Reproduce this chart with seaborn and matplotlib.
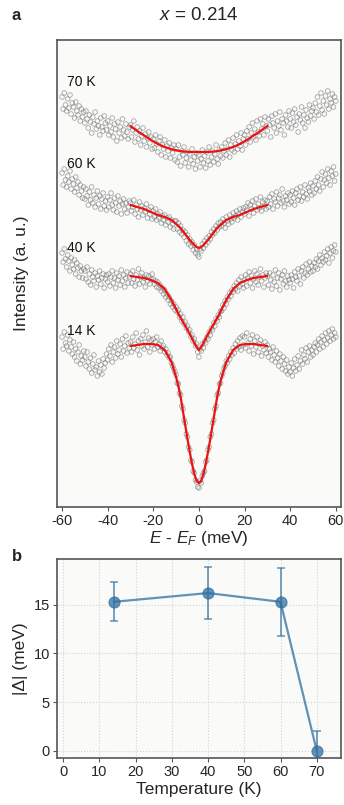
import numpy as np
import pandas as pd
import matplotlib
matplotlib.use("Agg")
import matplotlib.pyplot as plt
import seaborn as sns

# ---------------- data (panel a: EDC-like spectra, arbitrary units) ----------------
E_START, E_STEP = -60.0, 0.5

int_70K = [
    410, 398, 414, 402, 396, 408, 399, 412, 393, 404, 400, 389, 405, 396, 392, 401, 386, 398, 390, 395,
    384, 396, 388, 379, 392, 385, 374, 390, 383, 395, 378, 386, 381, 372, 389, 380, 376, 391, 384, 377,
    386, 372, 381, 375, 389, 370, 383, 378, 366, 385, 374, 380, 369, 388, 377, 371, 383, 375, 368, 380,
    382, 370, 377, 386, 365, 374, 380, 368, 376, 362, 371, 379, 366, 373, 360, 369, 375, 364, 370, 358,
    368, 359, 372, 363, 355, 366, 370, 352, 362, 358, 367, 350, 361, 356, 364, 349, 359, 354, 362, 347,
    358, 345, 362, 350, 341, 356, 352, 360, 344, 349, 355, 340, 353, 347, 358, 343, 350, 338, 354, 346,
    352, 340, 348, 357, 344, 351, 339, 355, 346, 360, 342, 350, 356, 345, 353, 362, 348, 343, 357, 351,
    360, 349, 356, 364, 352, 358, 367, 350, 362, 357, 369, 355, 363, 372, 358, 366, 361, 374, 357, 368,
    372, 362, 376, 368, 380, 365, 374, 384, 370, 378, 367, 386, 375, 371, 388, 378, 383, 372, 390, 381,
    376, 388, 382, 370, 391, 384, 379, 393, 374, 386, 381, 395, 377, 388, 384, 372, 392, 386, 380, 396,
    388, 379, 394, 385, 398, 382, 390, 375, 393, 387, 400, 384, 392, 379, 397, 389, 385, 402, 391, 396,
    399, 388, 404, 395, 410, 392, 401, 414, 397, 406, 393, 411, 402, 416, 398, 408, 404, 413, 400, 410,
    406]

int_60K = [
    334, 322, 338, 327, 320, 331, 325, 336, 318, 328, 323, 315, 330, 319, 325, 312, 322, 316, 309, 320,
    308, 318, 311, 302, 315, 307, 320, 304, 312, 300, 309, 316, 303, 311, 298, 308, 314, 301, 306, 297,
    310, 300, 307, 314, 302, 297, 309, 304, 295, 311, 301, 306, 293, 303, 308, 298, 304, 294, 300, 306,
    304, 296, 300, 307, 293, 302, 298, 290, 305, 297, 301, 292, 299, 295, 303, 289, 297, 293, 300, 288,
    296, 290, 298, 287, 293, 289, 295, 284, 291, 287, 292, 282, 289, 285, 290, 280, 287, 283, 278, 286,
    286, 278, 284, 275, 281, 273, 277, 270, 275, 266, 272, 263, 268, 261, 265, 257, 262, 254, 258, 252,
    250, 258, 256, 263, 259, 266, 262, 269, 265, 271, 268, 275, 272, 278, 274, 281, 277, 284, 280, 285,
    281, 288, 284, 279, 290, 286, 283, 292, 288, 285, 294, 289, 291, 296, 287, 293, 298, 290, 295, 299,
    293, 300, 297, 304, 291, 302, 298, 306, 294, 301, 308, 297, 303, 299, 310, 296, 305, 301, 307, 298,
    306, 300, 310, 303, 313, 298, 308, 305, 315, 301, 309, 312, 304, 318, 306, 300, 311, 307, 314, 303,
    312, 305, 316, 309, 302, 314, 318, 307, 311, 320, 306, 315, 310, 322, 313, 308, 319, 316, 324, 312,
    321, 314, 326, 318, 330, 322, 316, 328, 335, 320, 327, 333, 324, 338, 329, 322, 336, 331, 340, 326,
    333]

int_40K = [
    254, 245, 258, 248, 240, 252, 246, 236, 249, 242, 238, 247, 233, 244, 239, 230, 241, 236, 229, 238,
    236, 228, 240, 225, 233, 222, 237, 230, 226, 234, 220, 231, 227, 236, 223, 229, 233, 219, 228, 232,
    225, 233, 221, 230, 236, 224, 229, 219, 234, 227, 231, 222, 237, 226, 232, 220, 229, 235, 224, 230,
    233, 224, 236, 228, 221, 232, 227, 238, 223, 230, 234, 225, 229, 220, 232, 226, 231, 223, 228, 233,
    228, 223, 226, 220, 225, 219, 222, 216, 219, 213, 217, 210, 213, 207, 210, 203, 206, 200, 203, 197,
    200, 195, 197, 190, 193, 186, 190, 183, 185, 179, 181, 175, 177, 170, 172, 166, 168, 161, 163, 155,
    150, 158, 156, 163, 159, 166, 164, 170, 168, 175, 172, 179, 177, 184, 181, 188, 186, 192, 190, 196,
    196, 202, 199, 206, 203, 210, 208, 214, 211, 217, 215, 221, 218, 224, 216, 227, 221, 230, 223, 219,
    227, 232, 221, 229, 235, 224, 231, 219, 228, 236, 225, 233, 222, 230, 238, 226, 232, 220, 229, 234,
    231, 222, 234, 227, 218, 232, 225, 237, 221, 229, 234, 217, 228, 232, 223, 236, 226, 220, 231, 227,
    224, 232, 228, 219, 235, 230, 226, 238, 231, 223, 236, 240, 229, 234, 243, 232, 238, 245, 235, 241,
    236, 244, 240, 248, 238, 246, 252, 242, 249, 245, 255, 247, 251, 258, 244, 254, 260, 249, 256, 262,
    255]

int_14K = [
    170, 158, 175, 164, 161, 172, 156, 167, 160, 153, 165, 150, 158, 146, 155, 162, 143, 151, 147, 156,
    150, 141, 155, 145, 138, 149, 134, 143, 152, 137, 140, 131, 146, 135, 142, 133, 148, 139, 144, 153,
    147, 158, 151, 162, 145, 155, 160, 149, 166, 153, 157, 163, 150, 168, 156, 161, 171, 154, 164, 159,
    165, 155, 170, 159, 163, 174, 157, 166, 152, 168, 161, 172, 158, 165, 176, 160, 169, 155, 167, 162,
    168, 158, 165, 170, 160, 163, 156, 166, 159, 161, 155, 158, 152, 154, 149, 150, 144, 141, 138, 135,
    132, 124, 123, 114, 112, 101, 98, 87, 84, 73, 70, 60, 57, 47, 45, 36, 34, 27, 25, 20,
    19, 26, 24, 31, 34, 36, 45, 47, 57, 60, 70, 73, 84, 87, 98, 101, 112, 114, 123, 124,
    131, 134, 139, 141, 146, 144, 151, 148, 155, 152, 159, 154, 163, 158, 166, 160, 169, 157, 171, 162,
    170, 159, 174, 164, 156, 168, 161, 172, 153, 166, 160, 170, 155, 163, 167, 151, 161, 157, 165, 154,
    162, 150, 158, 155, 147, 160, 152, 145, 156, 149, 141, 153, 146, 138, 150, 143, 136, 147, 133, 140,
    135, 144, 131, 139, 148, 136, 142, 151, 138, 146, 157, 143, 152, 148, 159, 145, 155, 161, 150, 157,
    152, 160, 164, 155, 162, 168, 158, 165, 171, 160, 167, 174, 163, 169, 176, 166, 172, 178, 168, 174,
    170]

# fitted curves (red), read at these energies
E_fit = [-30, -27, -24, -21, -18, -15, -12, -10, -9, -8, -7, -6, -5, -4, -3, -2, -1, 0,
         1, 2, 3, 4, 5, 6, 7, 8, 9, 10, 12, 15, 18, 21, 24, 27, 30]
fit_70K = [381, 376, 371.5, 367, 363, 360, 357.8, 356.8, 356.3, 355.9, 355.6, 355.4, 355.2, 355.1, 355, 355, 355, 355,
           355, 355, 355, 355.1, 355.2, 355.4, 355.6, 355.9, 356.3, 356.8, 357.8, 360, 363, 367, 371.5, 376, 381]
fit_60K = [302, 300, 298, 295, 292, 290, 287, 283, 281, 279, 276, 273, 270, 267, 264.5, 262, 260, 259,
           260, 262, 264.5, 267, 270, 273, 276, 279, 281, 283, 287, 290, 292, 295, 298, 300, 302]
fit_40K = [231, 230, 229, 227, 224, 218, 207, 198, 193, 189, 185, 181, 177, 173, 168.5, 164, 160, 157,
           160, 164, 168.5, 173, 177, 181, 185, 189, 193, 198, 207, 218, 224, 227, 229, 230, 231]
fit_14K = [161, 162, 163, 163, 162, 157, 145, 130, 121, 110, 96, 82, 68, 55, 43, 33, 26, 24,
           26, 33, 43, 55, 68, 82, 96, 110, 121, 130, 145, 157, 162, 163, 163, 162, 161]

curve_labels = ["70 K", "60 K", "40 K", "14 K"]
label_heights = [425, 343, 259, 176]

# ---------------- data (panel b) ----------------
temperature = [14, 40, 60, 70]
gap = [15.3, 16.2, 15.3, 0.0]
gap_err = [2.0, 2.7, 3.5, 2.0]

# ---------------- style ----------------
sns.set_theme(style="white")
plt.rcParams["font.family"] = ["Liberation Sans", "DejaVu Sans"]
plt.rcParams["mathtext.fontset"] = "custom"
plt.rcParams["mathtext.rm"] = "Liberation Sans"
plt.rcParams["mathtext.it"] = "Liberation Sans:italic"
plt.rcParams["mathtext.bf"] = "Liberation Sans:bold"
plt.rcParams["axes.unicode_minus"] = False

FACE = "#fafaf9"
FRAME = "#555555"

fig = plt.figure(figsize=(3.44, 8.05), dpi=100)
fig.patch.set_facecolor("white")
ax1 = fig.add_axes([57 / 344, 1 - 507 / 805, 284 / 344, 467 / 805])
ax2 = fig.add_axes([57 / 344, 1 - 758 / 805, 284 / 344, 199 / 805])

# ---------------- panel a ----------------
series = [int_70K, int_60K, int_40K, int_14K]
fits = [fit_70K, fit_60K, fit_40K, fit_14K]
for vals, fit in zip(series, fits):
    energy = E_START + E_STEP * np.arange(len(vals))
    sns.scatterplot(x=energy, y=vals, ax=ax1, marker="o", s=11,
                    color="none", edgecolor="#6e6e6e", linewidth=0.6, alpha=0.6,
                    legend=False, zorder=2)
    sns.lineplot(x=E_fit, y=fit, ax=ax1, color="#ee1111", linewidth=1.6,
                 legend=False, zorder=3, estimator=None, sort=False)

for lab, h in zip(curve_labels, label_heights):
    ax1.text(-57.8, h, lab, fontsize=10, ha="left", va="center", color="#111111")

ax1.set_xlim(-62.2, 62.3)
ax1.set_ylim(0, 467)
ax1.set_xticks([-60, -40, -20, 0, 20, 40, 60])
ax1.set_yticks([])
ax1.set_facecolor(FACE)
ax1.set_xlabel(r"$E$ - $E_F$ (meV)", fontsize=12.5, labelpad=1)
ax1.set_ylabel("Intensity (a. u.)", fontsize=12.5, labelpad=20)
ax1.tick_params(axis="x", direction="out", length=3, width=0.8, labelsize=10.5,
                pad=2, color=FRAME, bottom=True)
for sp in ax1.spines.values():
    sp.set_color(FRAME)
    sp.set_linewidth(1.2)

# ---------------- panel b ----------------
blue = "#2f6fa0"
ax2.errorbar(temperature, gap, yerr=gap_err, fmt="none", ecolor=blue, elinewidth=1.2,
             capsize=3, capthick=1.1, alpha=0.75, zorder=3)
sns.lineplot(x=temperature, y=gap, ax=ax2, color=blue, linewidth=1.6, alpha=0.75,
             marker="o", markersize=8, markeredgecolor=blue, markerfacecolor=blue,
             legend=False, zorder=4, estimator=None)
ax2.set_xlim(-1.7, 76.7)
ax2.set_ylim(-0.75, 19.7)
ax2.set_xticks([0, 10, 20, 30, 40, 50, 60, 70])
ax2.set_yticks([0, 5, 10, 15])
ax2.set_facecolor(FACE)
ax2.grid(True, color="#d2d2d2", linestyle=":", linewidth=0.8)
ax2.set_axisbelow(True)
ax2.set_xlabel("Temperature (K)", fontsize=12.5, labelpad=2)
ax2.set_ylabel("|Δ| (meV)", fontsize=12.5, labelpad=4)
ax2.tick_params(axis="both", direction="out", length=3, width=0.8, labelsize=10.5,
                pad=2, color=FRAME, bottom=True, left=True)
for sp in ax2.spines.values():
    sp.set_color(FRAME)
    sp.set_linewidth(1.2)

# ---------------- annotations ----------------
fig.text(12 / 344, 1 - 16 / 805, "a", fontsize=12, fontweight="bold", ha="left", va="center")
fig.text(12 / 344, 1 - 556 / 805, "b", fontsize=12, fontweight="bold", ha="left", va="center")
fig.text(199 / 344, 1 - 15 / 805, r"$x$ = 0.214", fontsize=13.5, ha="center", va="center")

fig.savefig("out.png", dpi=100, facecolor="white")
